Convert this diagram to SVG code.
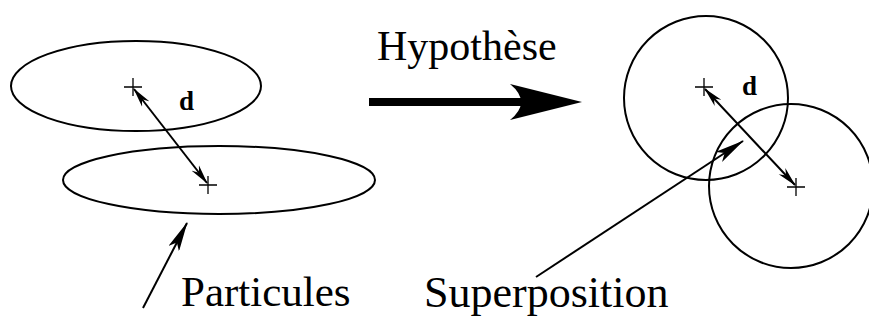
<svg xmlns="http://www.w3.org/2000/svg" width="869" height="320" viewBox="0 0 869 320">
<defs>
<style>
.sh{fill:none;stroke:#000;stroke-width:2}
.ln{fill:none;stroke:#000;stroke-width:2}
.cr{fill:none;stroke:#000;stroke-width:1.3}
text{font-family:'Liberation Serif','Times New Roman',serif;fill:#000}
.d{font-weight:bold;font-size:27px}
</style>
<marker id="dh" viewBox="0 0 20 10" refX="19" refY="5" markerWidth="20" markerHeight="10" markerUnits="userSpaceOnUse" orient="auto-start-reverse">
<path d="M0,0.5 L20,5 L0,9.5 L6,5 Z" fill="#000"/>
</marker>
<marker id="fh" viewBox="0 0 30 12" refX="29" refY="6" markerWidth="30" markerHeight="12" markerUnits="userSpaceOnUse" orient="auto">
<path d="M0,0 L30,6 L0,12 L7,6 Z" fill="#000"/>
</marker>
</defs>
<rect width="869" height="320" fill="#fff"/>
<g id="particule1">
<ellipse class="sh" cx="136" cy="86" rx="125" ry="45"/>
<path class="cr" d="M124,87 H142 M133,78 V96"/>
</g>
<g id="particule2">
<ellipse class="sh" cx="219" cy="180" rx="156" ry="34"/>
<path class="cr" d="M199,185 H217 M208,176 V194"/>
</g>
<g id="sphere1">
<circle class="sh" cx="706" cy="98" r="82"/>
<path class="cr" d="M695,87 H713 M704,78 V96"/>
</g>
<g id="sphere2">
<circle class="sh" cx="791" cy="186" r="82"/>
<path class="cr" d="M787,187 H805 M796,178 V196"/>
</g>
<g id="connectors">
<line class="ln" x1="134" y1="89" x2="207" y2="183" marker-start="url(#dh)" marker-end="url(#dh)"/>
<line class="ln" x1="705" y1="89" x2="795" y2="185" marker-start="url(#dh)" marker-end="url(#dh)"/>
<line class="ln" x1="143" y1="308" x2="187" y2="223" marker-end="url(#fh)"/>
<line class="ln" x1="536" y1="277" x2="743" y2="141" marker-end="url(#fh)"/>
<g id="hypothese-arrow">
<rect x="369" y="98" width="160" height="8" fill="#000"/>
<path d="M582,102 L510,84 Q532,102 510,120 Z" fill="#000"/>
</g>
</g>
<g id="labels">
<text class="d" x="179" y="110">d</text>
<text class="d" x="742" y="95">d</text>
<text x="377" y="60" font-size="42">Hypothèse</text>
<text x="181" y="306" font-size="43">Particules</text>
<text x="424" y="307" font-size="44">Superposition</text>
</g>
</svg>
